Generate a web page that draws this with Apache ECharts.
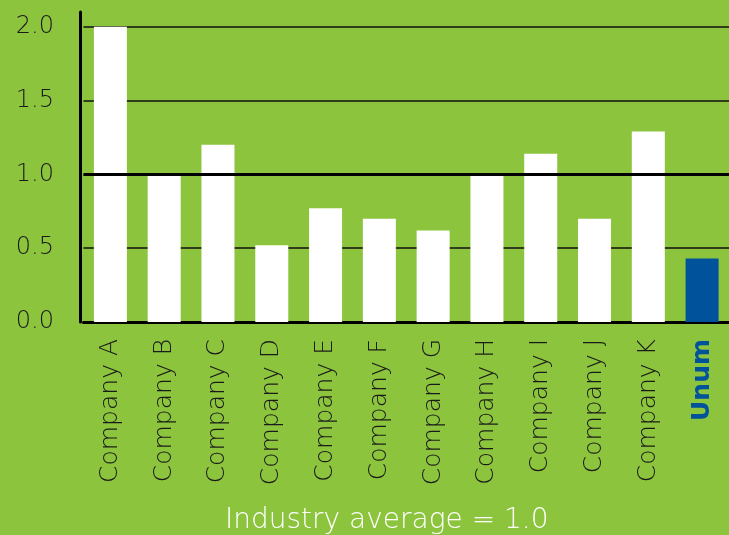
<!DOCTYPE html>
<html>
<head>
<meta charset="utf-8">
<script src="https://cdn.jsdelivr.net/npm/echarts@6/dist/echarts.min.js"></script>
<style>
html,body{margin:0;padding:0;background:#8cc43e;}
#chart{width:729px;height:535px;}
</style>
</head>
<body>
<div id="chart"></div>
<script>
const categories = ['Company A','Company B','Company C','Company D','Company E','Company F','Company G','Company H','Company I','Company J','Company K','Unum'];
const values = [2.0, 1.0, 1.2, 0.52, 0.77, 0.7, 0.62, 1.0, 1.14, 0.7, 1.29, 0.43];
const highlight = 'Unum';
const yTicks = [0, 0.5, 1.0, 1.5, 2.0];
const industryAverage = 1.0;

const chart = echarts.init(document.getElementById('chart'));
const font = '"DejaVu Sans", "Open Sans", sans-serif';
chart.setOption({
  backgroundColor: '#8cc43e',
  animation: false,
  title: {
    text: 'Industry average = ' + industryAverage.toFixed(1),
    left: 220,
    top: 502,
    textStyle: { color: '#ffffff', fontFamily: font, fontSize: 28, fontWeight: 200 }
  },
  grid: { left: 83.5, top: 12, width: 648, height: 310, containLabel: false },
  xAxis: {
    type: 'category',
    data: categories,
    axisLine: { show: true, lineStyle: { color: '#000', width: 3 } },
    axisTick: { show: false },
    axisLabel: {
      rotate: 90,
      margin: 17,
      color: '#1a1a1a',
      fontFamily: font,
      fontSize: 25,
      fontWeight: 200,
      interval: 0,
      formatter: v => v === highlight ? '{u|' + v + '}' : v,
      rich: { u: { color: '#00529b', fontWeight: 'bold', fontFamily: font, fontSize: 25 } }
    }
  },
  yAxis: {
    type: 'value',
    min: 0,
    max: 2.1,
    interval: 0.5,
    offset: 3.5,
    axisLine: { show: true, lineStyle: { color: '#000', width: 3 } },
    axisTick: { show: false },
    axisLabel: {
      margin: 26,
      color: '#1a1a1a',
      fontFamily: font,
      fontSize: 24,
      fontWeight: 200,
      showMaxLabel: false,
      formatter: v => yTicks.indexOf(v) >= 0 ? v.toFixed(1) : ''
    },
    splitLine: { show: true, showMaxLine: false, lineStyle: { color: '#111', width: 1.5 } }
  },
  series: [{
    type: 'bar',
    data: values.map((v, i) => ({
      value: v,
      itemStyle: { color: categories[i] === highlight ? '#00529b' : '#ffffff' }
    })),
    barWidth: 33,
    markLine: {
      silent: true,
      symbol: 'none',
      label: { show: false },
      lineStyle: { color: '#000', width: 3, type: 'solid' },
      data: [{ yAxis: industryAverage }]
    }
  }]
});
</script>
</body>
</html>
